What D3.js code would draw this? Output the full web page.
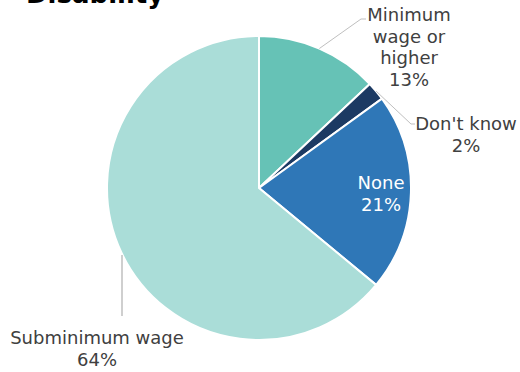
<!DOCTYPE html>
<html>
<head>
<meta charset="utf-8">
<script src="https://cdn.jsdelivr.net/npm/d3@7"></script>
<style>
  html, body { margin: 0; padding: 0; background: #fff; }
  svg { display: block; font-family: "DejaVu Sans", Verdana, sans-serif; }
</style>
</head>
<body>
<svg id="chart" width="520" height="372"></svg>
<script>
// Share of respondents by wage outcome
const categories = ["Minimum wage or higher", "Don't know", "None", "Subminimum wage"];
const labelLines = [["Minimum", "wage or", "higher"], ["Don't know"], ["None"], ["Subminimum wage"]];
const values = [13, 2, 21, 64];
const colors = ["#66c2b6", "#1c3a63", "#2f77b7", "#aaddd8"];

const svg = d3.select("#chart");
const cx = 259, cy = 188, r = 152;

svg.append("text")
  .attr("x", 26).attr("y", 3)
  .attr("font-size", 26).attr("font-weight", "bold")
  .attr("fill", "#000")
  .text("Disability");

const pie = d3.pie().sort(null).value(d => d)(values);
const arc = d3.arc().innerRadius(0).outerRadius(r);

const g = svg.append("g").attr("transform", `translate(${cx},${cy})`);
g.selectAll("path").data(pie).join("path")
  .attr("d", arc)
  .attr("fill", (d, i) => colors[i])
  .attr("stroke", "#fff")
  .attr("stroke-width", 2);

// Leader lines for outside labels: [point on edge, elbow, end]
const edge = (d, k) => {
  const a = (d.startAngle + d.endAngle) / 2;
  return [cx + k * Math.sin(a), cy - k * Math.cos(a)];
};
const leader = d3.line();
const lineColor = "#bfbfbf";

// Minimum wage or higher
{
  const p0 = edge(pie[0], r);
  svg.append("path").attr("d", leader([p0, [361, 19], [366, 19]]))
    .attr("fill", "none").attr("stroke", lineColor).attr("stroke-width", 1);
}
// Don't know
{
  const p0 = edge(pie[1], r);
  svg.append("path").attr("d", leader([p0, [411, 124], [415, 124]]))
    .attr("fill", "none").attr("stroke", lineColor).attr("stroke-width", 1);
}
// Subminimum wage
svg.append("path").attr("d", leader([[122, 255], [122, 316]]))
  .attr("fill", "none").attr("stroke", lineColor).attr("stroke-width", 1.5);

const textColor = "#404040";
function block(x, y, lines, pct, fill) {
  const t = svg.append("text").attr("text-anchor", "middle")
    .attr("font-size", 18).attr("fill", fill);
  lines.concat([pct + "%"]).forEach((s, i) => {
    t.append("tspan").attr("x", x).attr("y", y + i * 21.7).text(s);
  });
}
block(409, 21, labelLines[0], values[0], textColor);
block(466, 130, labelLines[1], values[1], textColor);
block(381, 189, labelLines[2], values[2], "#fff");
block(97, 344, labelLines[3], values[3], textColor);
</script>
</body>
</html>
